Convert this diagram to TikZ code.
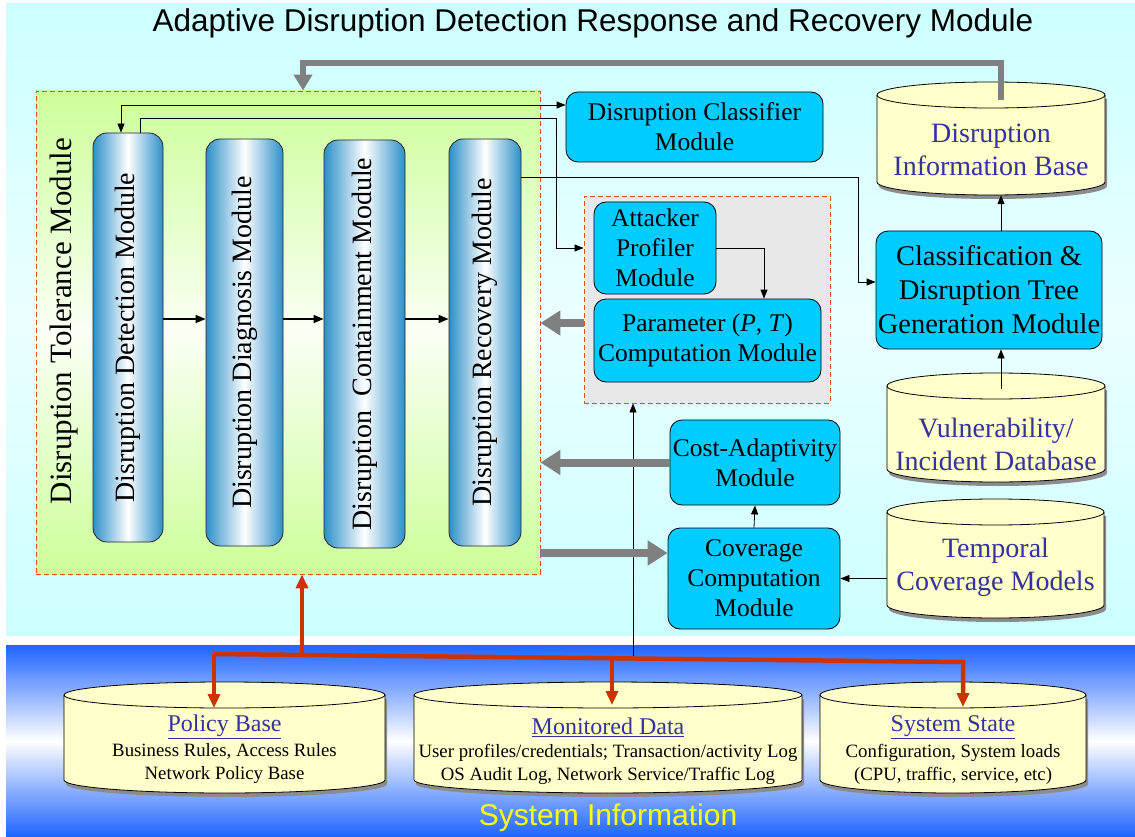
\documentclass[tikz,border=0pt]{standalone}
\usepackage{fontspec}
\setmainfont{Liberation Serif}
\newfontfamily\headfont{Liberation Sans}
\usetikzlibrary{arrows.meta,positioning}

\definecolor{skycyan}{HTML}{CCFFFF}
\definecolor{bandblue}{HTML}{1E64FF}
\definecolor{tolgreen}{HTML}{CCFF99}
\definecolor{stageblue}{HTML}{2C8FC8}
\definecolor{modcyan}{HTML}{00CCFF}
\definecolor{groupgray}{HTML}{E8E8E8}
\definecolor{dashred}{HTML}{E0501A}
\definecolor{dbyellow}{HTML}{FFFFCC}
\definecolor{dbink}{HTML}{333399}
\definecolor{arrowgray}{HTML}{808080}
\definecolor{busred}{HTML}{CC3300}
\definecolor{sysyellow}{HTML}{FFFF00}

\newcommand{\fsz}[2]{\fontsize{#1}{#2}\selectfont}
\newcommand{\dbry}{13}

% database drum: name, centre x, top y, bottom y, width
\newcommand{\dbdrum}[5]{%
  \pgfmathsetmacro{\cyL}{#2-#5/2}\pgfmathsetmacro{\cyR}{#2+#5/2}%
  \pgfmathsetmacro{\cyT}{#3+\dbry}\pgfmathsetmacro{\cyB}{#4-\dbry}%
  \pgfmathsetmacro{\cyX}{#5/2}\pgfmathsetmacro{\cyH}{#4-#3}%
  \fill[black!45] (\cyL+2,\cyT+4) -- (\cyL+2,\cyB+4)
    arc[start angle=180,end angle=360,x radius=\cyX pt,y radius=\dbry pt]
    -- (\cyR+2,\cyT+4) -- cycle;
  \filldraw[fill=dbyellow,draw=black,line width=0.8pt] (\cyL,\cyT) -- (\cyL,\cyB)
    arc[start angle=180,end angle=360,x radius=\cyX pt,y radius=\dbry pt]
    -- (\cyR,\cyT)
    arc[start angle=0,end angle=180,x radius=\cyX pt,y radius=\dbry pt] -- cycle;
  \draw[line width=0.8pt] (\cyL,\cyT)
    arc[start angle=180,end angle=360,x radius=\cyX pt,y radius=\dbry pt];
  \node[inner sep=0pt,minimum width=#5pt,minimum height=\cyH pt] (#1) at (#2,{(#3+#4)/2}) {};
}

\begin{document}
\begin{tikzpicture}[x=1pt,y=-1pt,
  module/.style={draw=black, line width=0.8pt, fill=modcyan, rounded corners=12pt,
    align=center, inner sep=0pt, font=\fsz{25.5}{30}},
  stage/.style={draw=black!85, line width=0.8pt, rounded corners=14pt, inner sep=0pt,
    left color=stageblue, right color=stageblue, middle color=white},
  stagetext/.style={rotate=90, font=\fsz{28}{28}},
  dashbox/.style={draw=dashred, line width=0.9pt, dash pattern=on 5pt off 3pt, inner sep=0pt},
  dbtext/.style={text=dbink, align=center, font=\fsz{28}{33}},
  link/.style={-{Triangle[length=9pt,width=7pt]}, line width=0.8pt},
  flow/.style={-{Triangle[length=10pt,width=8pt]}, line width=1.6pt},
  fat/.style={-{Triangle[length=20pt,width=24pt]}, line width=8pt, draw=arrowgray},
  redarrow/.style={-{Triangle[length=14pt,width=12pt]}, line width=4.5pt, draw=busred}]

\useasboundingbox (0,0) rectangle (1135,837);

% backgrounds
\fill[top color=skycyan, bottom color=skycyan, middle color=skycyan!40] (6,4) rectangle (1135,635);
\fill[top color=bandblue, bottom color=bandblue, middle color=white] (6,645) rectangle (1135,837);

\node[font=\headfont\fsz{31.5}{32}] (title) at (593,23) {Adaptive Disruption Detection Response and Recovery Module};
\node[font=\headfont\fsz{30}{30}, text=sysyellow] (sysinfo) at (608,818) {System Information};

% disruption tolerance block
\node[dashbox, top color=tolgreen, bottom color=tolgreen, middle color=tolgreen!10,
  minimum width=504pt, minimum height=483pt] (tolerance) at (288,332.5) {};
\node[rotate=90, font=\fsz{31}{31}] (tolcaption) at (64,321) {Disruption Tolerance Module};

\node[stage, minimum width=70pt, minimum height=409pt,
  label={[stagetext]center:Disruption Detection Module}] (detect) at (128,337.5) {};
\node[stage, minimum width=77pt, minimum height=407pt,
  label={[stagetext]center:Disruption Diagnosis Module}] (diagnose) at (244.5,342.5) {};
\node[stage, minimum width=81pt, minimum height=408pt,
  label={[stagetext]center:Disruption~~Containment Module}] (contain) at (364.5,344) {};
\node[stage, minimum width=72pt, minimum height=407pt,
  label={[stagetext]center:Disruption Recovery Module}] (recover) at (485,342.5) {};

\foreach \a/\b in {detect/diagnose, diagnose/contain, contain/recover}
  \draw[flow] (\a.east |- 0,319) -- (\b.west |- 0,319);

% parameter group
\node[dashbox, fill=groupgray, minimum width=246pt, minimum height=207pt] (pgroup) at (707,299.5) {};
\node[module, minimum width=122pt, minimum height=92pt] (attacker) at (655,248) {Attacker\\Profiler\\Module};
\node[module, minimum width=227pt, minimum height=83pt] (param) at (707.5,340.5) {Parameter (\textit{P}, \textit{T})\\Computation Module};

\node[module, minimum width=257pt, minimum height=70pt] (classifier) at (694.5,127) {Disruption Classifier\\Module};
\node[module, font=\fsz{28.5}{34}, minimum width=226pt, minimum height=118pt] (classif) at (989,290) {Classification \&\\Disruption Tree\\Generation Module};
\node[module, minimum width=170pt, minimum height=85pt] (cost) at (755,462.5) {Cost-Adaptivity\\Module};
\node[module, minimum width=172pt, minimum height=101pt] (coverage) at (754,578.5) {Coverage\\Computation\\Module};

% databases
\dbdrum{infobase}{991}{82}{195}{228}
\node[dbtext] (infobase-txt) at (991,150) {Disruption\\Information Base};
\dbdrum{vuln}{996}{373}{482}{218}
\node[dbtext] (vuln-txt) at (996,444) {Vulnerability/\\Incident Database};
\dbdrum{temporal}{995.5}{499}{618}{217}
\node[dbtext] (temporal-txt) at (995.5,567) {Temporal\\Coverage Models};

\dbdrum{policy}{224.5}{682}{793}{321}
\dbdrum{monitor}{608}{682}{793}{388}
\dbdrum{sysstate}{953}{682}{793}{266}
\foreach \n/\x/\h/\d in {policy/224.5/Policy Base/{Business Rules, Access Rules\\Network Policy Base},
    monitor/608/Monitored Data/{User profiles/credentials; Transaction/activity Log\\OS Audit Log, Network Service/Traffic Log},
    sysstate/953/System State/{Configuration, System loads\\(CPU, traffic, service, etc)}} {
  \node[text=dbink, font=\fsz{24}{26}] (\n-head) at (\x,727) {\underline{\h}};
  \node[align=center, font=\fsz{18.8}{23}] (\n-notes) at (\x,764) {\d};
}

% thin connectors
\draw[{Triangle[length=9pt,width=7pt]}-{Triangle[length=9pt,width=7pt]}, line width=0.8pt]
  ([xshift=-7pt]detect.north) |- (classifier.west |- 0,105);
\draw[link] ([xshift=12pt]detect.north) |- (556,118) |- (pgroup.west |- attacker.west);
\draw[link] (recover.east |- 0,177) -| (858,282) -- (classif.west |- 0,282);
\draw[link] (attacker.east) -| (param.north -| 764,0);
\draw[link] (classif.north -| 1001,0) -- (infobase.south -| 1001,0);
\draw[link] ([xshift=5pt,yshift=-16pt]vuln.north) -- (classif.south -| 1001,0);
\draw[link] (coverage.north) -- (cost.south);
\draw[link] (temporal.west |- coverage.east) -- (coverage.east);
\draw[link] (633,659) -- (pgroup.south -| 633,0);

% thick feedback arrows
\draw[fat] (pgroup.west |- 0,323) -- (tolerance.east |- 0,323);
\draw[fat] (cost.west) -- (cost.west -| tolerance.east);
\draw[fat] (tolerance.east |- 0,553) -- (coverage.west |- 0,553);
\draw[-{Triangle[length=16pt,width=18pt]}, line width=6pt, draw=arrowgray]
  ([xshift=10pt,yshift=-18pt]infobase.north) |- (303,63) -- (tolerance.north -| 303,0);

% system information bus
\coordinate (busL) at (214,654);
\coordinate (busR) at (963,662);
\draw[redarrow] (busL) -- (busR) -- (busR |- 0,707);
\draw[redarrow] (busL) -- (busL |- 0,708);
\draw[redarrow] (612,658) -- (612,705);
\draw[redarrow] (302,655) -- (tolerance.south -| 302,0);

\end{tikzpicture}
\end{document}
